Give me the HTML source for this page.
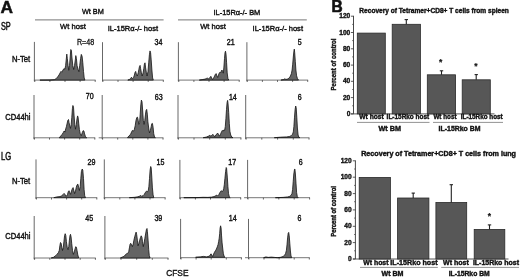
<!DOCTYPE html>
<html><head><meta charset="utf-8"><title>Figure</title>
<style>
html,body{margin:0;padding:0;background:#fff;}
body{width:520px;height:277px;overflow:hidden;}
svg{display:block;filter:blur(0.3px);font-family:"Liberation Sans",sans-serif;fill:#111;}
</style></head><body>
<svg width="520" height="277" viewBox="0 0 520 277">
<rect x="0" y="0" width="520" height="277" fill="#fff"/>
<line x1="34.4" y1="41.9" x2="34.4" y2="81.4" stroke="#686868" stroke-width="1.0"/>
<line x1="33.9" y1="80.1" x2="95.6" y2="80.1" stroke="#686868" stroke-width="0.9"/>
<line x1="34.8" y1="80.1" x2="34.8" y2="81.9" stroke="#4a4a4a" stroke-width="0.85"/>
<line x1="49.9" y1="80.1" x2="49.9" y2="81.9" stroke="#4a4a4a" stroke-width="0.85"/>
<line x1="65.0" y1="80.1" x2="65.0" y2="81.9" stroke="#4a4a4a" stroke-width="0.85"/>
<line x1="80.1" y1="80.1" x2="80.1" y2="81.9" stroke="#4a4a4a" stroke-width="0.85"/>
<line x1="95.2" y1="80.1" x2="95.2" y2="81.9" stroke="#4a4a4a" stroke-width="0.85"/>
<polygon points="39.9,80.1 50.0,80.0 54.3,79.7 56.5,78.4 57.9,76.5 59.0,75.0 60.1,72.9 61.0,71.4 61.8,72.2 63.0,70.0 64.0,68.5 64.9,69.3 65.6,65.7 66.2,59.9 66.8,54.1 67.3,58.4 68.1,65.7 68.8,70.3 69.5,65.7 70.2,57.0 70.8,49.5 71.4,50.5 71.9,57.0 72.8,65.7 73.7,69.5 74.5,65.7 75.3,59.9 75.8,55.6 76.4,58.4 77.1,65.7 78.0,69.3 78.9,71.7 79.7,65.7 80.6,58.4 81.3,54.4 82.1,56.3 82.8,62.8 83.5,71.4 84.2,77.9 84.9,80.1" fill="#646464" stroke="#141414" stroke-width="0.8" stroke-linejoin="round"/>
<line x1="102.5" y1="42.2" x2="102.5" y2="81.4" stroke="#686868" stroke-width="1.0"/>
<line x1="102.0" y1="80.1" x2="163.7" y2="80.1" stroke="#686868" stroke-width="0.9"/>
<line x1="102.9" y1="80.1" x2="102.9" y2="81.9" stroke="#4a4a4a" stroke-width="0.85"/>
<line x1="118.0" y1="80.1" x2="118.0" y2="81.9" stroke="#4a4a4a" stroke-width="0.85"/>
<line x1="133.1" y1="80.1" x2="133.1" y2="81.9" stroke="#4a4a4a" stroke-width="0.85"/>
<line x1="148.2" y1="80.1" x2="148.2" y2="81.9" stroke="#4a4a4a" stroke-width="0.85"/>
<line x1="163.3" y1="80.1" x2="163.3" y2="81.9" stroke="#4a4a4a" stroke-width="0.85"/>
<polygon points="127.8,80.1 129.5,79.4 130.7,78.4 131.5,77.2 132.4,78.7 133.6,77.5 134.4,75.0 135.1,72.2 135.7,71.4 136.4,74.3 137.3,76.0 138.2,72.9 138.9,69.3 139.5,66.4 140.1,65.4 140.6,68.5 141.4,72.9 142.2,76.0 143.1,72.9 143.8,68.5 144.4,64.2 145.0,62.8 145.5,67.1 146.3,72.2 147.1,76.0 148.0,71.4 148.7,62.8 149.4,54.8 150.0,50.9 150.6,52.7 151.2,59.9 151.9,70.0 152.6,77.9 153.3,80.1" fill="#646464" stroke="#141414" stroke-width="0.8" stroke-linejoin="round"/>
<line x1="178.4" y1="42.2" x2="178.4" y2="81.4" stroke="#686868" stroke-width="1.0"/>
<line x1="177.9" y1="80.1" x2="239.6" y2="80.1" stroke="#686868" stroke-width="0.9"/>
<line x1="178.8" y1="80.1" x2="178.8" y2="81.9" stroke="#4a4a4a" stroke-width="0.85"/>
<line x1="193.9" y1="80.1" x2="193.9" y2="81.9" stroke="#4a4a4a" stroke-width="0.85"/>
<line x1="209.0" y1="80.1" x2="209.0" y2="81.9" stroke="#4a4a4a" stroke-width="0.85"/>
<line x1="224.1" y1="80.1" x2="224.1" y2="81.9" stroke="#4a4a4a" stroke-width="0.85"/>
<line x1="239.2" y1="80.1" x2="239.2" y2="81.9" stroke="#4a4a4a" stroke-width="0.85"/>
<polygon points="199.3,80.1 202.9,79.5 205.1,79.1 206.6,78.4 207.4,77.9 208.3,78.9 209.4,78.4 210.3,76.9 210.9,76.3 211.6,78.1 212.6,79.5 213.8,77.5 214.6,76.1 215.4,74.3 216.1,73.6 216.8,75.5 217.7,77.5 218.5,75.0 219.3,72.9 220.0,72.2 220.7,72.9 221.4,70.7 222.0,70.0 222.6,71.4 223.3,73.2 223.9,67.1 224.5,58.4 225.0,52.7 225.5,51.2 226.0,54.1 226.6,62.8 227.2,72.9 227.9,78.4 228.8,80.1" fill="#646464" stroke="#141414" stroke-width="0.8" stroke-linejoin="round"/>
<line x1="246.9" y1="42.2" x2="246.9" y2="81.4" stroke="#686868" stroke-width="1.0"/>
<line x1="246.4" y1="80.1" x2="308.1" y2="80.1" stroke="#686868" stroke-width="0.9"/>
<line x1="247.3" y1="80.1" x2="247.3" y2="81.9" stroke="#4a4a4a" stroke-width="0.85"/>
<line x1="262.4" y1="80.1" x2="262.4" y2="81.9" stroke="#4a4a4a" stroke-width="0.85"/>
<line x1="277.5" y1="80.1" x2="277.5" y2="81.9" stroke="#4a4a4a" stroke-width="0.85"/>
<line x1="292.6" y1="80.1" x2="292.6" y2="81.9" stroke="#4a4a4a" stroke-width="0.85"/>
<line x1="307.7" y1="80.1" x2="307.7" y2="81.9" stroke="#4a4a4a" stroke-width="0.85"/>
<polygon points="280.9,80.1 283.8,79.5 284.9,78.7 285.9,79.5 287.8,78.9 289.3,77.9 290.4,76.1 291.4,73.6 292.1,70.0 292.7,64.2 293.3,57.0 293.9,51.2 294.3,49.1 294.7,52.7 295.3,61.3 295.9,70.0 296.6,75.8 297.5,78.7 298.5,80.1" fill="#646464" stroke="#141414" stroke-width="0.8" stroke-linejoin="round"/>
<line x1="34.0" y1="95.0" x2="34.0" y2="139.1" stroke="#686868" stroke-width="1.0"/>
<line x1="33.5" y1="137.8" x2="95.2" y2="137.8" stroke="#686868" stroke-width="0.9"/>
<line x1="34.4" y1="137.8" x2="34.4" y2="139.6" stroke="#4a4a4a" stroke-width="0.85"/>
<line x1="49.5" y1="137.8" x2="49.5" y2="139.6" stroke="#4a4a4a" stroke-width="0.85"/>
<line x1="64.6" y1="137.8" x2="64.6" y2="139.6" stroke="#4a4a4a" stroke-width="0.85"/>
<line x1="79.7" y1="137.8" x2="79.7" y2="139.6" stroke="#4a4a4a" stroke-width="0.85"/>
<line x1="94.8" y1="137.8" x2="94.8" y2="139.6" stroke="#4a4a4a" stroke-width="0.85"/>
<polygon points="59.2,137.8 60.7,136.1 62.1,134.4 63.3,132.5 64.1,131.0 64.9,132.1 65.7,128.9 66.4,126.7 67.2,123.1 67.9,120.2 68.5,119.5 69.0,122.4 69.8,126.0 70.5,128.4 71.2,124.5 71.8,117.3 72.4,108.7 72.9,105.5 73.5,107.2 74.1,115.9 74.8,124.5 75.5,129.2 76.3,124.5 77.0,118.8 77.6,115.9 78.1,117.3 78.7,123.1 79.4,129.6 80.3,133.9 81.3,135.7 82.3,132.5 83.2,130.6 83.9,131.0 84.6,133.9 85.5,136.8 86.7,137.8" fill="#646464" stroke="#141414" stroke-width="0.8" stroke-linejoin="round"/>
<line x1="102.2" y1="95.0" x2="102.2" y2="139.1" stroke="#686868" stroke-width="1.0"/>
<line x1="98.7" y1="137.8" x2="163.4" y2="137.8" stroke="#686868" stroke-width="0.9"/>
<line x1="102.6" y1="137.8" x2="102.6" y2="139.6" stroke="#4a4a4a" stroke-width="0.85"/>
<line x1="117.7" y1="137.8" x2="117.7" y2="139.6" stroke="#4a4a4a" stroke-width="0.85"/>
<line x1="132.8" y1="137.8" x2="132.8" y2="139.6" stroke="#4a4a4a" stroke-width="0.85"/>
<line x1="147.9" y1="137.8" x2="147.9" y2="139.6" stroke="#4a4a4a" stroke-width="0.85"/>
<line x1="163.0" y1="137.8" x2="163.0" y2="139.6" stroke="#4a4a4a" stroke-width="0.85"/>
<polygon points="127.5,137.7 129.0,135.8 130.6,134.3 131.6,131.9 132.4,130.4 133.4,131.2 134.3,129.6 135.2,125.7 136.0,120.3 136.8,117.5 137.5,117.2 138.2,120.3 138.8,124.4 139.6,122.6 140.2,114.1 140.8,104.8 141.4,100.1 142.0,101.7 142.7,111.0 143.3,120.3 144.1,124.4 144.8,120.3 145.5,114.1 146.1,110.2 146.7,109.4 147.3,114.1 147.9,121.8 148.7,128.0 149.5,132.9 150.4,130.4 151.2,126.5 151.8,123.7 152.4,123.4 153.1,127.3 153.7,133.5 154.5,137.1 155.4,137.7" fill="#646464" stroke="#141414" stroke-width="0.8" stroke-linejoin="round"/>
<line x1="178.0" y1="95.0" x2="178.0" y2="139.1" stroke="#686868" stroke-width="1.0"/>
<line x1="177.5" y1="137.8" x2="241.3" y2="137.8" stroke="#686868" stroke-width="0.9"/>
<line x1="178.4" y1="137.8" x2="178.4" y2="139.6" stroke="#4a4a4a" stroke-width="0.85"/>
<line x1="194.0" y1="137.8" x2="194.0" y2="139.6" stroke="#4a4a4a" stroke-width="0.85"/>
<line x1="209.7" y1="137.8" x2="209.7" y2="139.6" stroke="#4a4a4a" stroke-width="0.85"/>
<line x1="225.3" y1="137.8" x2="225.3" y2="139.6" stroke="#4a4a4a" stroke-width="0.85"/>
<line x1="240.9" y1="137.8" x2="240.9" y2="139.6" stroke="#4a4a4a" stroke-width="0.85"/>
<polygon points="203.2,137.7 206.3,137.1 208.6,136.1 209.9,135.3 210.8,136.1 211.9,135.5 212.8,134.3 213.6,135.2 214.7,136.8 215.9,135.0 216.9,133.9 217.6,133.0 218.4,134.3 219.5,136.2 220.6,133.9 221.5,131.9 222.3,130.4 223.1,131.2 223.9,129.9 224.6,130.4 225.3,126.5 225.9,118.7 226.5,109.4 227.1,102.4 227.6,100.4 228.0,103.2 228.7,112.5 229.3,123.4 229.9,131.2 230.7,135.0 231.8,137.1 233.0,137.7" fill="#646464" stroke="#141414" stroke-width="0.8" stroke-linejoin="round"/>
<line x1="245.7" y1="95.0" x2="245.7" y2="139.1" stroke="#686868" stroke-width="1.0"/>
<line x1="245.2" y1="137.8" x2="309.4" y2="137.8" stroke="#686868" stroke-width="0.9"/>
<line x1="246.1" y1="137.8" x2="246.1" y2="139.6" stroke="#4a4a4a" stroke-width="0.85"/>
<line x1="261.8" y1="137.8" x2="261.8" y2="139.6" stroke="#4a4a4a" stroke-width="0.85"/>
<line x1="277.6" y1="137.8" x2="277.6" y2="139.6" stroke="#4a4a4a" stroke-width="0.85"/>
<line x1="293.3" y1="137.8" x2="293.3" y2="139.6" stroke="#4a4a4a" stroke-width="0.85"/>
<line x1="309.0" y1="137.8" x2="309.0" y2="139.6" stroke="#4a4a4a" stroke-width="0.85"/>
<polygon points="274.3,137.7 280.5,137.2 286.7,136.9 289.8,136.4 291.4,135.5 292.5,134.3 293.3,131.9 293.9,126.5 294.5,117.2 295.1,109.4 295.7,106.0 296.2,107.9 296.8,117.2 297.4,128.0 298.1,135.0 298.8,137.1 299.9,137.7" fill="#646464" stroke="#141414" stroke-width="0.8" stroke-linejoin="round"/>
<line x1="36.0" y1="159.4" x2="36.0" y2="199.0" stroke="#686868" stroke-width="1.0"/>
<line x1="35.5" y1="197.7" x2="97.2" y2="197.7" stroke="#686868" stroke-width="0.9"/>
<line x1="36.4" y1="197.7" x2="36.4" y2="199.5" stroke="#4a4a4a" stroke-width="0.85"/>
<line x1="51.5" y1="197.7" x2="51.5" y2="199.5" stroke="#4a4a4a" stroke-width="0.85"/>
<line x1="66.6" y1="197.7" x2="66.6" y2="199.5" stroke="#4a4a4a" stroke-width="0.85"/>
<line x1="81.7" y1="197.7" x2="81.7" y2="199.5" stroke="#4a4a4a" stroke-width="0.85"/>
<line x1="96.8" y1="197.7" x2="96.8" y2="199.5" stroke="#4a4a4a" stroke-width="0.85"/>
<polygon points="53.8,197.7 56.9,196.9 60.0,196.6 61.9,195.7 63.1,194.5 64.1,193.4 65.0,194.5 66.2,196.4 67.5,194.5 68.2,191.8 69.0,190.7 69.8,192.6 70.6,194.4 71.5,191.0 72.3,188.7 73.1,187.6 73.8,190.3 74.6,193.6 75.5,191.0 76.3,187.2 77.1,184.8 77.9,184.1 78.6,187.2 79.4,190.5 80.2,186.4 80.8,178.6 81.4,171.6 82.2,169.0 82.8,170.1 83.5,178.6 84.1,189.5 84.7,195.7 85.5,197.7" fill="#646464" stroke="#141414" stroke-width="0.8" stroke-linejoin="round"/>
<line x1="104.3" y1="159.4" x2="104.3" y2="199.0" stroke="#686868" stroke-width="1.0"/>
<line x1="103.8" y1="197.7" x2="165.5" y2="197.7" stroke="#686868" stroke-width="0.9"/>
<line x1="104.7" y1="197.7" x2="104.7" y2="199.5" stroke="#4a4a4a" stroke-width="0.85"/>
<line x1="119.8" y1="197.7" x2="119.8" y2="199.5" stroke="#4a4a4a" stroke-width="0.85"/>
<line x1="134.9" y1="197.7" x2="134.9" y2="199.5" stroke="#4a4a4a" stroke-width="0.85"/>
<line x1="150.0" y1="197.7" x2="150.0" y2="199.5" stroke="#4a4a4a" stroke-width="0.85"/>
<line x1="165.1" y1="197.7" x2="165.1" y2="199.5" stroke="#4a4a4a" stroke-width="0.85"/>
<polygon points="129.3,197.7 134.7,197.3 137.9,196.8 139.9,196.0 140.8,195.4 141.7,196.3 143.0,195.7 144.2,194.5 145.1,192.9 145.9,191.8 146.7,191.0 147.5,191.8 148.3,190.3 148.9,186.4 149.5,178.6 150.1,170.1 150.7,166.5 151.2,167.8 151.8,177.1 152.4,187.9 153.1,194.9 153.8,197.7" fill="#646464" stroke="#141414" stroke-width="0.8" stroke-linejoin="round"/>
<line x1="179.9" y1="159.9" x2="179.9" y2="199.0" stroke="#686868" stroke-width="1.0"/>
<line x1="179.4" y1="197.7" x2="241.1" y2="197.7" stroke="#686868" stroke-width="0.9"/>
<line x1="180.3" y1="197.7" x2="180.3" y2="199.5" stroke="#4a4a4a" stroke-width="0.85"/>
<line x1="195.4" y1="197.7" x2="195.4" y2="199.5" stroke="#4a4a4a" stroke-width="0.85"/>
<line x1="210.5" y1="197.7" x2="210.5" y2="199.5" stroke="#4a4a4a" stroke-width="0.85"/>
<line x1="225.6" y1="197.7" x2="225.6" y2="199.5" stroke="#4a4a4a" stroke-width="0.85"/>
<line x1="240.7" y1="197.7" x2="240.7" y2="199.5" stroke="#4a4a4a" stroke-width="0.85"/>
<polygon points="183.8,197.7 197.0,197.6 203.2,197.3 207.9,197.4 211.7,197.1 214.1,196.6 215.6,195.7 216.7,195.1 217.6,196.0 218.7,194.9 219.7,192.9 220.6,191.4 221.4,190.7 222.1,191.8 222.9,191.0 223.7,188.7 224.3,184.8 224.9,178.6 225.6,171.6 226.2,167.5 226.6,168.5 227.3,177.1 227.9,186.4 228.5,193.4 229.3,196.9 230.2,197.7" fill="#646464" stroke="#141414" stroke-width="0.8" stroke-linejoin="round"/>
<line x1="247.6" y1="159.9" x2="247.6" y2="199.0" stroke="#686868" stroke-width="1.0"/>
<line x1="244.1" y1="197.7" x2="310.0" y2="197.7" stroke="#686868" stroke-width="0.9"/>
<line x1="248.0" y1="197.7" x2="248.0" y2="199.5" stroke="#4a4a4a" stroke-width="0.85"/>
<line x1="263.4" y1="197.7" x2="263.4" y2="199.5" stroke="#4a4a4a" stroke-width="0.85"/>
<line x1="278.8" y1="197.7" x2="278.8" y2="199.5" stroke="#4a4a4a" stroke-width="0.85"/>
<line x1="294.2" y1="197.7" x2="294.2" y2="199.5" stroke="#4a4a4a" stroke-width="0.85"/>
<line x1="309.6" y1="197.7" x2="309.6" y2="199.5" stroke="#4a4a4a" stroke-width="0.85"/>
<polygon points="275.4,197.7 283.1,197.4 287.8,196.9 289.8,196.3 291.0,195.4 292.0,193.4 292.6,189.5 293.2,181.7 293.8,174.0 294.5,169.3 294.9,169.0 295.4,174.0 296.0,183.3 296.6,192.6 297.3,196.5 298.2,197.7" fill="#646464" stroke="#141414" stroke-width="0.8" stroke-linejoin="round"/>
<line x1="34.2" y1="216.0" x2="34.2" y2="259.3" stroke="#686868" stroke-width="1.0"/>
<line x1="33.7" y1="258.0" x2="95.8" y2="258.0" stroke="#686868" stroke-width="0.9"/>
<line x1="34.6" y1="258.0" x2="34.6" y2="259.8" stroke="#4a4a4a" stroke-width="0.85"/>
<line x1="49.8" y1="258.0" x2="49.8" y2="259.8" stroke="#4a4a4a" stroke-width="0.85"/>
<line x1="65.0" y1="258.0" x2="65.0" y2="259.8" stroke="#4a4a4a" stroke-width="0.85"/>
<line x1="80.2" y1="258.0" x2="80.2" y2="259.8" stroke="#4a4a4a" stroke-width="0.85"/>
<line x1="95.4" y1="258.0" x2="95.4" y2="259.8" stroke="#4a4a4a" stroke-width="0.85"/>
<polygon points="51.2,258.0 53.5,257.3 55.6,255.7 57.1,254.2 58.4,252.6 59.3,250.3 59.9,245.6 60.5,242.5 61.1,243.3 61.8,247.2 62.5,250.5 63.3,247.2 63.9,241.7 64.6,235.5 65.2,233.7 65.8,235.5 66.4,241.7 67.2,247.2 68.0,249.7 68.8,246.4 69.4,240.2 70.0,235.5 70.5,234.3 71.1,237.1 71.7,243.3 72.5,250.3 73.4,254.4 74.3,251.8 75.1,248.7 75.7,246.7 76.4,247.2 77.0,250.3 77.8,254.9 78.7,258.0" fill="#646464" stroke="#141414" stroke-width="0.8" stroke-linejoin="round"/>
<line x1="104.9" y1="216.0" x2="104.9" y2="259.3" stroke="#686868" stroke-width="1.0"/>
<line x1="104.4" y1="258.0" x2="168.4" y2="258.0" stroke="#686868" stroke-width="0.9"/>
<line x1="105.3" y1="258.0" x2="105.3" y2="259.8" stroke="#4a4a4a" stroke-width="0.85"/>
<line x1="121.0" y1="258.0" x2="121.0" y2="259.8" stroke="#4a4a4a" stroke-width="0.85"/>
<line x1="136.7" y1="258.0" x2="136.7" y2="259.8" stroke="#4a4a4a" stroke-width="0.85"/>
<line x1="152.3" y1="258.0" x2="152.3" y2="259.8" stroke="#4a4a4a" stroke-width="0.85"/>
<line x1="168.0" y1="258.0" x2="168.0" y2="259.8" stroke="#4a4a4a" stroke-width="0.85"/>
<polygon points="120.4,258.0 122.5,256.9 124.0,256.5 125.2,254.9 126.5,253.8 127.7,253.4 128.7,251.8 129.4,247.9 130.1,244.1 130.7,243.3 131.5,244.5 132.4,246.6 133.2,244.1 133.9,240.2 134.7,236.8 135.5,234.0 136.1,232.1 136.7,234.7 137.4,240.2 138.1,245.8 138.9,243.3 139.7,240.2 140.5,237.4 141.2,235.8 141.9,237.1 142.5,241.7 143.3,246.6 144.0,243.3 144.8,238.6 145.6,234.0 146.4,229.6 147.0,228.5 147.4,231.6 148.1,240.2 148.7,249.5 149.3,255.7 150.1,258.0" fill="#646464" stroke="#141414" stroke-width="0.8" stroke-linejoin="round"/>
<line x1="180.6" y1="218.9" x2="180.6" y2="259.0" stroke="#686868" stroke-width="1.0"/>
<line x1="180.1" y1="257.7" x2="241.8" y2="257.7" stroke="#686868" stroke-width="0.9"/>
<line x1="181.0" y1="257.7" x2="181.0" y2="259.5" stroke="#4a4a4a" stroke-width="0.85"/>
<line x1="196.1" y1="257.7" x2="196.1" y2="259.5" stroke="#4a4a4a" stroke-width="0.85"/>
<line x1="211.2" y1="257.7" x2="211.2" y2="259.5" stroke="#4a4a4a" stroke-width="0.85"/>
<line x1="226.3" y1="257.7" x2="226.3" y2="259.5" stroke="#4a4a4a" stroke-width="0.85"/>
<line x1="241.4" y1="257.7" x2="241.4" y2="259.5" stroke="#4a4a4a" stroke-width="0.85"/>
<polygon points="195.6,257.3 200.3,256.9 203.4,256.4 206.5,256.9 209.3,256.2 210.2,255.0 211.0,253.8 211.7,255.0 212.7,256.6 213.6,254.1 214.5,252.2 215.5,250.6 216.4,249.1 217.3,246.8 218.1,244.4 218.7,241.3 219.2,238.2 219.7,233.6 220.1,228.1 220.6,225.8 221.1,228.1 221.5,235.1 222.1,242.9 222.8,249.1 223.4,253.8 224.2,256.5 225.1,257.3" fill="#646464" stroke="#141414" stroke-width="0.8" stroke-linejoin="round"/>
<line x1="248.5" y1="218.9" x2="248.5" y2="259.0" stroke="#686868" stroke-width="1.0"/>
<line x1="245.0" y1="257.7" x2="309.7" y2="257.7" stroke="#686868" stroke-width="0.9"/>
<line x1="248.9" y1="257.7" x2="248.9" y2="259.5" stroke="#4a4a4a" stroke-width="0.85"/>
<line x1="264.0" y1="257.7" x2="264.0" y2="259.5" stroke="#4a4a4a" stroke-width="0.85"/>
<line x1="279.1" y1="257.7" x2="279.1" y2="259.5" stroke="#4a4a4a" stroke-width="0.85"/>
<line x1="294.2" y1="257.7" x2="294.2" y2="259.5" stroke="#4a4a4a" stroke-width="0.85"/>
<line x1="309.3" y1="257.7" x2="309.3" y2="259.5" stroke="#4a4a4a" stroke-width="0.85"/>
<polygon points="263.6,257.7 265.9,256.9 268.2,257.4 271.3,257.1 274.4,257.4 277.5,257.7 280.6,257.3 283.0,256.5 284.5,255.4 285.6,253.4 286.4,250.3 287.0,244.8 287.6,237.9 288.2,233.2 288.7,232.4 289.2,235.5 289.8,243.3 290.4,251.0 291.0,256.0 291.8,257.7" fill="#646464" stroke="#141414" stroke-width="0.8" stroke-linejoin="round"/>
<text x="0.6" y="13.1" font-size="17.3" font-weight="bold" stroke="#111" stroke-width="0.5">A</text>
<text x="0.9" y="29.8" font-size="10.4" textLength="9.8" lengthAdjust="spacingAndGlyphs" stroke="#111" stroke-width="0.5">SP</text>
<text x="0.9" y="159.8" font-size="10.4" textLength="10.2" lengthAdjust="spacingAndGlyphs" stroke="#111" stroke-width="0.5">LG</text>
<text x="81.9" y="13.5" font-size="7.8" textLength="21.9" lengthAdjust="spacingAndGlyphs" stroke="#111" stroke-width="0.4">Wt BM</text>
<text x="213.5" y="14.5" font-size="7.8" textLength="46.8" lengthAdjust="spacingAndGlyphs" stroke="#111" stroke-width="0.4">IL-15Rα-/- BM</text>
<line x1="35.0" y1="19.9" x2="163.6" y2="19.9" stroke="#777" stroke-width="1"/>
<line x1="178.0" y1="19.9" x2="306.8" y2="19.9" stroke="#777" stroke-width="1"/>
<text x="60.1" y="29.3" font-size="7.9" textLength="25.7" lengthAdjust="spacingAndGlyphs" stroke="#111" stroke-width="0.4">Wt host</text>
<text x="107.7" y="30.7" font-size="7.9" textLength="50.4" lengthAdjust="spacingAndGlyphs" stroke="#111" stroke-width="0.4">IL-15Rα-/- host</text>
<text x="200.2" y="29.3" font-size="7.9" textLength="25.6" lengthAdjust="spacingAndGlyphs" stroke="#111" stroke-width="0.4">Wt host</text>
<text x="252.6" y="30.5" font-size="7.9" textLength="50.4" lengthAdjust="spacingAndGlyphs" stroke="#111" stroke-width="0.4">IL-15Rα-/- host</text>
<text x="11.9" y="62.2" font-size="8.2" textLength="18.3" lengthAdjust="spacingAndGlyphs" stroke="#111" stroke-width="0.4">N-Tet</text>
<text x="5.3" y="119.8" font-size="8.2" textLength="25.2" lengthAdjust="spacingAndGlyphs" stroke="#111" stroke-width="0.4">CD44hi</text>
<text x="11.9" y="183.5" font-size="8.2" textLength="18.3" lengthAdjust="spacingAndGlyphs" stroke="#111" stroke-width="0.4">N-Tet</text>
<text x="5.3" y="238.9" font-size="8.2" textLength="25.2" lengthAdjust="spacingAndGlyphs" stroke="#111" stroke-width="0.4">CD44hi</text>
<text x="76.9" y="45.2" font-size="8.2" textLength="17.3" lengthAdjust="spacingAndGlyphs" stroke="#111" stroke-width="0.3">R=48</text>
<text x="154.5" y="45.3" font-size="8.3" textLength="7.9" lengthAdjust="spacingAndGlyphs" stroke="#111" stroke-width="0.4">34</text>
<text x="226.8" y="45.3" font-size="8.3" textLength="7.9" lengthAdjust="spacingAndGlyphs" stroke="#111" stroke-width="0.4">21</text>
<text x="297.8" y="45.3" font-size="8.3" textLength="3.9" lengthAdjust="spacingAndGlyphs" stroke="#111" stroke-width="0.4">5</text>
<text x="85.8" y="99.0" font-size="8.3" textLength="7.9" lengthAdjust="spacingAndGlyphs" stroke="#111" stroke-width="0.4">70</text>
<text x="154.7" y="99.8" font-size="8.3" textLength="7.9" lengthAdjust="spacingAndGlyphs" stroke="#111" stroke-width="0.4">63</text>
<text x="228.9" y="99.8" font-size="8.3" textLength="7.9" lengthAdjust="spacingAndGlyphs" stroke="#111" stroke-width="0.4">14</text>
<text x="297.8" y="100.3" font-size="8.3" textLength="3.9" lengthAdjust="spacingAndGlyphs" stroke="#111" stroke-width="0.4">6</text>
<text x="87.5" y="164.9" font-size="8.3" textLength="7.9" lengthAdjust="spacingAndGlyphs" stroke="#111" stroke-width="0.4">29</text>
<text x="156.5" y="164.9" font-size="8.3" textLength="7.9" lengthAdjust="spacingAndGlyphs" stroke="#111" stroke-width="0.4">15</text>
<text x="228.3" y="165.0" font-size="8.3" textLength="7.9" lengthAdjust="spacingAndGlyphs" stroke="#111" stroke-width="0.4">17</text>
<text x="298.8" y="165.0" font-size="8.3" textLength="3.9" lengthAdjust="spacingAndGlyphs" stroke="#111" stroke-width="0.4">6</text>
<text x="85.2" y="220.8" font-size="8.3" textLength="7.9" lengthAdjust="spacingAndGlyphs" stroke="#111" stroke-width="0.4">45</text>
<text x="154.4" y="221.1" font-size="8.3" textLength="7.9" lengthAdjust="spacingAndGlyphs" stroke="#111" stroke-width="0.4">39</text>
<text x="228.8" y="221.1" font-size="8.3" textLength="7.9" lengthAdjust="spacingAndGlyphs" stroke="#111" stroke-width="0.4">14</text>
<text x="297.5" y="221.1" font-size="8.3" textLength="3.9" lengthAdjust="spacingAndGlyphs" stroke="#111" stroke-width="0.4">6</text>
<text x="166.2" y="275.6" font-size="9.9" textLength="22.3" lengthAdjust="spacingAndGlyphs" stroke="#111" stroke-width="0.4">CFSE</text>
<text x="331.6" y="12.2" font-size="15.6" font-weight="bold" textLength="11.2" lengthAdjust="spacingAndGlyphs" stroke="#111" stroke-width="0.6">B</text>
<line x1="353.5" y1="15.8" x2="353.5" y2="113.9" stroke="#333" stroke-width="0.9"/>
<line x1="351.0" y1="113.9" x2="494.5" y2="113.9" stroke="#444" stroke-width="0.9"/>
<line x1="350.9" y1="113.9" x2="353.5" y2="113.9" stroke="#333" stroke-width="0.8"/>
<text x="350.3" y="116.0" font-size="6.6" font-weight="bold" text-anchor="end" stroke="#111" stroke-width="0.35">0</text>
<line x1="352.1" y1="105.8" x2="353.5" y2="105.8" stroke="#444" stroke-width="0.7"/>
<line x1="350.9" y1="97.6" x2="353.5" y2="97.6" stroke="#333" stroke-width="0.8"/>
<text x="350.3" y="99.7" font-size="6.6" font-weight="bold" text-anchor="end" stroke="#111" stroke-width="0.35">20</text>
<line x1="352.1" y1="89.5" x2="353.5" y2="89.5" stroke="#444" stroke-width="0.7"/>
<line x1="350.9" y1="81.3" x2="353.5" y2="81.3" stroke="#333" stroke-width="0.8"/>
<text x="350.3" y="83.4" font-size="6.6" font-weight="bold" text-anchor="end" stroke="#111" stroke-width="0.35">40</text>
<line x1="352.1" y1="73.2" x2="353.5" y2="73.2" stroke="#444" stroke-width="0.7"/>
<line x1="350.9" y1="65.1" x2="353.5" y2="65.1" stroke="#333" stroke-width="0.8"/>
<text x="350.3" y="67.2" font-size="6.6" font-weight="bold" text-anchor="end" stroke="#111" stroke-width="0.35">60</text>
<line x1="352.1" y1="56.9" x2="353.5" y2="56.9" stroke="#444" stroke-width="0.7"/>
<line x1="350.9" y1="48.8" x2="353.5" y2="48.8" stroke="#333" stroke-width="0.8"/>
<text x="350.3" y="50.9" font-size="6.6" font-weight="bold" text-anchor="end" stroke="#111" stroke-width="0.35">80</text>
<line x1="352.1" y1="40.6" x2="353.5" y2="40.6" stroke="#444" stroke-width="0.7"/>
<line x1="350.9" y1="32.5" x2="353.5" y2="32.5" stroke="#333" stroke-width="0.8"/>
<text x="350.3" y="34.6" font-size="6.6" font-weight="bold" text-anchor="end" stroke="#111" stroke-width="0.35">100</text>
<line x1="352.1" y1="24.4" x2="353.5" y2="24.4" stroke="#444" stroke-width="0.7"/>
<line x1="350.9" y1="16.2" x2="353.5" y2="16.2" stroke="#333" stroke-width="0.8"/>
<text x="350.3" y="18.3" font-size="6.6" font-weight="bold" text-anchor="end" stroke="#111" stroke-width="0.35">120</text>
<rect x="357.3" y="33.1" width="28.0" height="80.8" fill="#575757" stroke="#2a2a2a" stroke-width="0.8"/>
<rect x="392.2" y="24.3" width="28.2" height="89.6" fill="#575757" stroke="#2a2a2a" stroke-width="0.8"/>
<line x1="406.3" y1="19.6" x2="406.3" y2="24.3" stroke="#222" stroke-width="1.1"/>
<line x1="404.6" y1="19.6" x2="408.0" y2="19.6" stroke="#222" stroke-width="1.1"/>
<rect x="427.3" y="74.8" width="28.3" height="39.1" fill="#575757" stroke="#2a2a2a" stroke-width="0.8"/>
<line x1="441.5" y1="70.8" x2="441.5" y2="74.8" stroke="#222" stroke-width="1.1"/>
<line x1="439.8" y1="70.8" x2="443.2" y2="70.8" stroke="#222" stroke-width="1.1"/>
<rect x="462.2" y="79.8" width="28.1" height="34.1" fill="#575757" stroke="#2a2a2a" stroke-width="0.8"/>
<line x1="476.2" y1="74.6" x2="476.2" y2="79.8" stroke="#222" stroke-width="1.1"/>
<line x1="474.6" y1="74.6" x2="477.9" y2="74.6" stroke="#222" stroke-width="1.1"/>
<text x="440.7" y="65.3" font-size="8.5" font-weight="bold" text-anchor="middle" stroke="#111" stroke-width="0.2">*</text>
<text x="475.9" y="68.7" font-size="8.5" font-weight="bold" text-anchor="middle" stroke="#111" stroke-width="0.2">*</text>
<text x="359.3" y="12.9" font-size="6.6" font-weight="bold" textLength="149.6" lengthAdjust="spacingAndGlyphs" stroke="#111" stroke-width="0.38">Recovery of Tetramer+CD8+ T cells from spleen</text>
<text x="359.3" y="119.3" font-size="6.5" font-weight="bold" textLength="24.5" lengthAdjust="spacingAndGlyphs" stroke="#111" stroke-width="0.38">Wt host</text>
<text x="386.6" y="119.3" font-size="6.5" font-weight="bold" textLength="42.6" lengthAdjust="spacingAndGlyphs" stroke="#111" stroke-width="0.38">IL-15Rko host</text>
<text x="433.4" y="119.3" font-size="6.5" font-weight="bold" textLength="23.1" lengthAdjust="spacingAndGlyphs" stroke="#111" stroke-width="0.38">Wt host</text>
<text x="460.8" y="119.3" font-size="6.5" font-weight="bold" textLength="41.9" lengthAdjust="spacingAndGlyphs" stroke="#111" stroke-width="0.38">IL-15Rko host</text>
<line x1="357.0" y1="122.4" x2="429.5" y2="122.4" stroke="#777" stroke-width="0.8"/>
<line x1="433.0" y1="122.4" x2="503.0" y2="122.4" stroke="#777" stroke-width="0.8"/>
<text x="378.5" y="131.0" font-size="6.8" font-weight="bold" textLength="22.5" lengthAdjust="spacingAndGlyphs" stroke="#111" stroke-width="0.38">Wt BM</text>
<text x="438.6" y="131.0" font-size="6.8" font-weight="bold" textLength="41.9" lengthAdjust="spacingAndGlyphs" stroke="#111" stroke-width="0.38">IL-15Rko BM</text>
<text transform="translate(335.6,90.5) rotate(-90)" font-size="6.3" font-weight="bold" stroke="#111" stroke-width="0.4" textLength="52" lengthAdjust="spacingAndGlyphs">Percent of control</text>
<line x1="355.4" y1="160.4" x2="355.4" y2="259.0" stroke="#333" stroke-width="0.9"/>
<line x1="352.9" y1="259.0" x2="508.5" y2="259.0" stroke="#444" stroke-width="0.9"/>
<line x1="352.8" y1="259.0" x2="355.4" y2="259.0" stroke="#333" stroke-width="0.8"/>
<text x="351.7" y="261.1" font-size="6.6" font-weight="bold" text-anchor="end" stroke="#111" stroke-width="0.35">0</text>
<line x1="354.0" y1="250.8" x2="355.4" y2="250.8" stroke="#444" stroke-width="0.7"/>
<line x1="352.8" y1="242.6" x2="355.4" y2="242.6" stroke="#333" stroke-width="0.8"/>
<text x="351.7" y="244.7" font-size="6.6" font-weight="bold" text-anchor="end" stroke="#111" stroke-width="0.35">20</text>
<line x1="354.0" y1="234.5" x2="355.4" y2="234.5" stroke="#444" stroke-width="0.7"/>
<line x1="352.8" y1="226.3" x2="355.4" y2="226.3" stroke="#333" stroke-width="0.8"/>
<text x="351.7" y="228.4" font-size="6.6" font-weight="bold" text-anchor="end" stroke="#111" stroke-width="0.35">40</text>
<line x1="354.0" y1="218.1" x2="355.4" y2="218.1" stroke="#444" stroke-width="0.7"/>
<line x1="352.8" y1="209.9" x2="355.4" y2="209.9" stroke="#333" stroke-width="0.8"/>
<text x="351.7" y="212.0" font-size="6.6" font-weight="bold" text-anchor="end" stroke="#111" stroke-width="0.35">60</text>
<line x1="354.0" y1="201.7" x2="355.4" y2="201.7" stroke="#444" stroke-width="0.7"/>
<line x1="352.8" y1="193.6" x2="355.4" y2="193.6" stroke="#333" stroke-width="0.8"/>
<text x="351.7" y="195.7" font-size="6.6" font-weight="bold" text-anchor="end" stroke="#111" stroke-width="0.35">80</text>
<line x1="354.0" y1="185.4" x2="355.4" y2="185.4" stroke="#444" stroke-width="0.7"/>
<line x1="352.8" y1="177.2" x2="355.4" y2="177.2" stroke="#333" stroke-width="0.8"/>
<text x="351.7" y="179.3" font-size="6.6" font-weight="bold" text-anchor="end" stroke="#111" stroke-width="0.35">100</text>
<line x1="354.0" y1="169.0" x2="355.4" y2="169.0" stroke="#444" stroke-width="0.7"/>
<line x1="352.8" y1="160.8" x2="355.4" y2="160.8" stroke="#333" stroke-width="0.8"/>
<text x="351.7" y="162.9" font-size="6.6" font-weight="bold" text-anchor="end" stroke="#111" stroke-width="0.35">120</text>
<rect x="359.2" y="177.4" width="31.2" height="81.6" fill="#575757" stroke="#2a2a2a" stroke-width="0.8"/>
<rect x="397.6" y="198.0" width="31.3" height="61.0" fill="#575757" stroke="#2a2a2a" stroke-width="0.8"/>
<line x1="413.2" y1="193.1" x2="413.2" y2="198.0" stroke="#222" stroke-width="1.1"/>
<line x1="411.6" y1="193.1" x2="414.9" y2="193.1" stroke="#222" stroke-width="1.1"/>
<rect x="435.9" y="202.5" width="30.8" height="56.5" fill="#575757" stroke="#2a2a2a" stroke-width="0.8"/>
<line x1="451.3" y1="184.7" x2="451.3" y2="202.5" stroke="#222" stroke-width="1.1"/>
<line x1="449.6" y1="184.7" x2="453.0" y2="184.7" stroke="#222" stroke-width="1.1"/>
<rect x="474.2" y="229.4" width="30.6" height="29.6" fill="#575757" stroke="#2a2a2a" stroke-width="0.8"/>
<line x1="489.5" y1="224.9" x2="489.5" y2="229.4" stroke="#222" stroke-width="1.1"/>
<line x1="487.8" y1="224.9" x2="491.2" y2="224.9" stroke="#222" stroke-width="1.1"/>
<text x="489.4" y="218.6" font-size="8.5" font-weight="bold" text-anchor="middle" stroke="#111" stroke-width="0.2">*</text>
<text x="361.2" y="156.1" font-size="6.6" font-weight="bold" textLength="154.8" lengthAdjust="spacingAndGlyphs" stroke="#111" stroke-width="0.38">Recovery of Tetramer+CD8+ T cells from lung</text>
<text x="363.2" y="265.0" font-size="6.5" font-weight="bold" textLength="25.3" lengthAdjust="spacingAndGlyphs" stroke="#111" stroke-width="0.38">Wt host</text>
<text x="390.3" y="265.0" font-size="6.5" font-weight="bold" textLength="47.3" lengthAdjust="spacingAndGlyphs" stroke="#111" stroke-width="0.38">IL-15Rko host</text>
<text x="443.0" y="265.0" font-size="6.5" font-weight="bold" textLength="25.9" lengthAdjust="spacingAndGlyphs" stroke="#111" stroke-width="0.38">Wt host</text>
<text x="472.9" y="265.0" font-size="6.5" font-weight="bold" textLength="46.1" lengthAdjust="spacingAndGlyphs" stroke="#111" stroke-width="0.38">IL-15Rko host</text>
<line x1="360.0" y1="267.4" x2="437.8" y2="267.4" stroke="#777" stroke-width="0.8"/>
<line x1="441.2" y1="267.4" x2="519.0" y2="267.4" stroke="#777" stroke-width="0.8"/>
<text x="381.5" y="275.6" font-size="6.6" font-weight="bold" textLength="22.0" lengthAdjust="spacingAndGlyphs" stroke="#111" stroke-width="0.38">Wt BM</text>
<text x="448.7" y="275.6" font-size="6.6" font-weight="bold" textLength="41.0" lengthAdjust="spacingAndGlyphs" stroke="#111" stroke-width="0.38">IL-15Rko BM</text>
<text transform="translate(336.0,236.8) rotate(-90)" font-size="6.3" font-weight="bold" stroke="#111" stroke-width="0.4" textLength="50.7" lengthAdjust="spacingAndGlyphs">Percent of control</text>
</svg>
</body></html>
